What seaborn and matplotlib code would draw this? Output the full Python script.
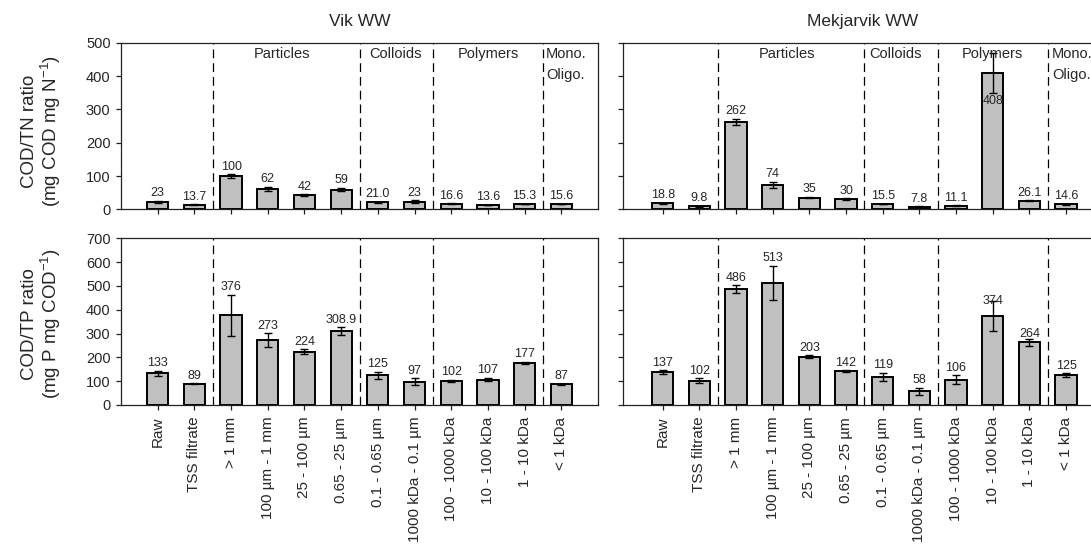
import numpy as np
import pandas as pd
import matplotlib
matplotlib.use("Agg")
import matplotlib.pyplot as plt
import matplotlib.transforms as mtransforms
import seaborn as sns

# ---------------- data ----------------
categories = ["Raw", "TSS filtrate", "> 1 mm", "100 µm - 1 mm", "25 - 100 µm",
              "0.65 - 25 µm", "0.1 - 0.65 µm", "1000 kDa - 0.1 µm",
              "100 - 1000 kDa", "10 - 100 kDa", "1 - 10 kDa", "< 1 kDa"]

vik_cod_tn = [23, 13.7, 100, 62, 42, 59, 21.0, 23, 16.6, 13.6, 15.3, 15.6]
vik_cod_tn_err = [3, 0.8, 5, 6, 3, 5, 1, 4, 1, 0.8, 0.8, 0.8]
vik_cod_tn_labels = ["23", "13.7", "100", "62", "42", "59", "21.0", "23",
                     "16.6", "13.6", "15.3", "15.6"]

mek_cod_tn = [18.8, 9.8, 262, 74, 35, 30, 15.5, 7.8, 11.1, 408, 26.1, 14.6]
mek_cod_tn_err = [1.5, 1.5, 10, 9, 1.5, 3, 1, 1, 1, 60, 1, 1]
mek_cod_tn_labels = ["18.8", "9.8", "262", "74", "35", "30", "15.5", "7.8",
                     "11.1", "408", "26.1", "14.6"]

vik_cod_tp = [133, 89, 376, 273, 224, 308.9, 125, 97, 102, 107, 177, 87]
vik_cod_tp_err = [10, 2, 88, 28, 10, 17, 15, 15, 5, 7, 5, 1]
vik_cod_tp_labels = ["133", "89", "376", "273", "224", "308.9", "125", "97",
                     "102", "107", "177", "87"]

mek_cod_tp = [137, 102, 486, 513, 203, 142, 119, 58, 106, 374, 264, 125]
mek_cod_tp_err = [8, 10, 17, 72, 5, 4, 17, 14, 18, 64, 15, 8]
mek_cod_tp_labels = ["137", "102", "486", "513", "203", "142", "119", "58",
                     "106", "374", "264", "125"]

group_names = ["Particles", "Colloids", "Polymers", "Mono.\nOligo."]
group_boundaries = [1.5, 5.5, 7.5, 10.5]
site_titles = ["Vik WW", "Mekjarvik WW"]
ylabel_tn = "COD/TN ratio\n(mg COD mg N$^{-1}$)"
ylabel_tp = "COD/TP ratio\n(mg P mg COD$^{-1}$)"

# ---------------- style ----------------
sns.set_style("ticks")
plt.rcParams["font.family"] = ["Liberation Sans", "DejaVu Sans"]
plt.rcParams["mathtext.fontset"] = "custom"
plt.rcParams["mathtext.rm"] = "Liberation Sans"
plt.rcParams["mathtext.it"] = "Liberation Sans:italic"
plt.rcParams["mathtext.bf"] = "Liberation Sans:bold"
plt.rcParams["axes.linewidth"] = 0.9
plt.rcParams["axes.edgecolor"] = "#222222"

W, H = 1091, 550
fig = plt.figure(figsize=(W / 100, H / 100), dpi=100)


def add_ax(x0, x1, y0, y1):
    return fig.add_axes([x0 / W, 1 - y1 / H, (x1 - x0) / W, (y1 - y0) / H])


ax_tl = add_ax(121, 598, 42.8, 209.3)
ax_tr = add_ax(622.7, 1102.7, 42.8, 209.3)
ax_bl = add_ax(121, 598, 238.3, 405)
ax_br = add_ax(622.7, 1102.7, 238.3, 405)

VAL_FS = 9
TICK_FS = 10.5
XTICK_FS = 11
GROUP_FS = 10.5


def draw(ax, values, errors, labels, ylim, ystep, xlim, show_xlabels,
         show_ylabels, show_groups, group_x, label_over=None):
    label_over = label_over or {}
    df = pd.DataFrame({"fraction": categories, "value": values})
    sns.barplot(data=df, x="fraction", y="value", order=categories,
                color="#c0c0c0", saturation=1, edgecolor="black",
                linewidth=1.4, width=0.58, errorbar=None, ax=ax, zorder=2)
    x = np.arange(len(categories))
    ax.errorbar(x, values, yerr=errors, fmt="none", ecolor="black",
                elinewidth=1.0, capsize=3.2, capthick=1.0, zorder=3)
    for b in group_boundaries:
        ax.axvline(b, color="black", lw=0.9, dashes=(7, 4), zorder=1)
    for i, (v, e, t) in enumerate(zip(values, errors, labels)):
        mode, off = label_over.get(i, ("above", 1.2))
        if mode == "above":
            ax.annotate(t, (i, v + e), xytext=(0, off), textcoords="offset points",
                        ha="center", va="bottom", fontsize=VAL_FS, zorder=4)
        elif mode == "center":
            ax.annotate(t, (i, v + e), xytext=(0, off), textcoords="offset points",
                        ha="center", va="center", fontsize=VAL_FS, zorder=4)
        else:
            ax.annotate(t, (i, v - e), xytext=(0, off), textcoords="offset points",
                        ha="center", va="top", fontsize=VAL_FS, zorder=4)
    ax.set_xlim(*xlim)
    ax.set_ylim(*ylim)
    ax.set_yticks(np.arange(ylim[0], ylim[1] + 1, ystep))
    ax.set_xlabel("")
    ax.set_ylabel("")
    ax.tick_params(axis="both", direction="out", length=3.5, width=0.9,
                   color="#222222", labelsize=TICK_FS, pad=4)
    ax.tick_params(axis="x", labelsize=XTICK_FS, pad=5)
    if show_xlabels:
        ax.set_xticks(x)
        ax.set_xticklabels(categories, rotation=90, ha="center", va="top")
    else:
        ax.set_xticks(x)
        ax.set_xticklabels([])
    if not show_ylabels:
        ax.set_yticklabels([])
    for s in ax.spines.values():
        s.set_visible(True)
    if show_groups:
        tr = mtransforms.blended_transform_factory(ax.transData, ax.transAxes)
        for name, (gx, ha) in zip(group_names, group_x):
            ax.text(gx, 0.972, name, transform=tr, ha=ha, va="top",
                    fontsize=GROUP_FS, linespacing=1.55, zorder=4)


left_xlim = (-1, 12)
right_xlim = (-1.09, 12)
left_groups = [(3.4, "center"), (6.47, "center"), (9.0, "center"), (10.58, "left")]
right_groups = [(3.4, "center"), (6.36, "center"), (9.0, "center"), (10.62, "left")]

draw(ax_tl, vik_cod_tn, vik_cod_tn_err, vik_cod_tn_labels, (0, 500), 100,
     left_xlim, False, True, True, left_groups)
draw(ax_tr, mek_cod_tn, mek_cod_tn_err, mek_cod_tn_labels, (0, 500), 100,
     right_xlim, False, False, True, right_groups, {9: ("below", -1)})
draw(ax_bl, vik_cod_tp, vik_cod_tp_err, vik_cod_tp_labels, (0, 700), 100,
     left_xlim, True, True, False, left_groups)
draw(ax_br, mek_cod_tp, mek_cod_tp_err, mek_cod_tp_labels, (0, 700), 100,
     right_xlim, True, False, False, right_groups,
     {9: ("center", 0), 10: ("center", 3)})

# titles (centered on each column of panels)
fig.text((121 + 598) / 2 / W, 1 - 21.5 / H, site_titles[0], ha="center",
         va="center", fontsize=12.5)
fig.text((622.7 + 1102.7) / 2 / W, 1 - 21.5 / H, site_titles[1], ha="center",
         va="center", fontsize=12.5)

# y labels
fig.text(41.7 / W, 1 - 131 / H, ylabel_tn, rotation=90, ha="center",
         va="center", fontsize=13.5, multialignment="center", linespacing=1.05)
fig.text(41.7 / W, 1 - 324 / H, ylabel_tp, rotation=90, ha="center",
         va="center", fontsize=13.5, multialignment="center", linespacing=1.05)

fig.savefig("out.png", dpi=100)
